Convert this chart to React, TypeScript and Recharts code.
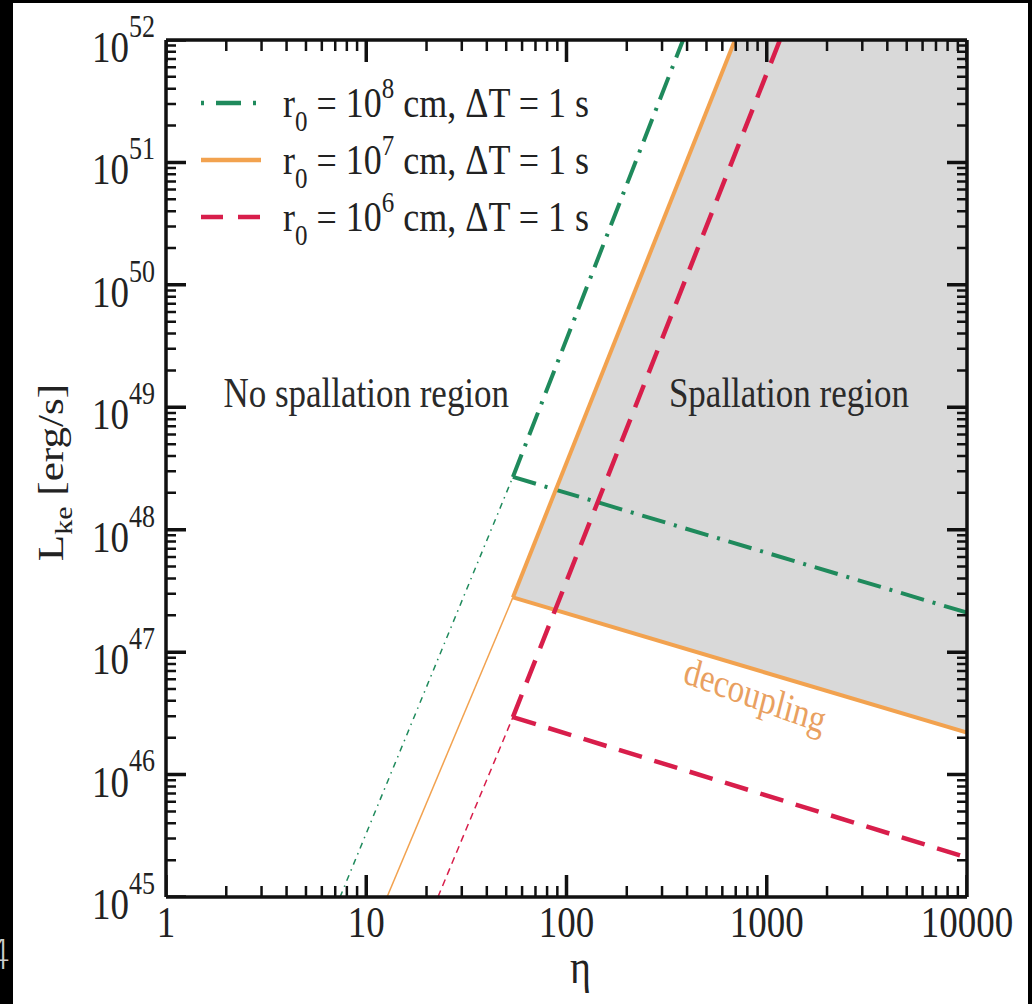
import React from "react";
import { ComposedChart, XAxis, YAxis, Line, Area, ReferenceLine, ReferenceDot, Legend, Label } from "recharts";

const SERIF = "'Liberation Serif', 'Times New Roman', serif";
const STRETCH = 1.2; // the figure is stretched vertically
const PLOT_W = 801;
const PLOT_H = 857;

// axes
const X_DECADES = [1, 10, 100, 1000, 10000];
const X_LABELS = ["1", "10", "100", "1000", "10000"];
const Y_EXPONENTS = [45, 46, 47, 48, 49, 50, 51, 52];
const MINOR_STEPS = [2, 3, 4, 5, 6, 7, 8, 9];

// rising branch: bottom edge, kink, top edge
const KINK_ETA = 54;
const RISE_ETA_R8 = [7.4, KINK_ETA, 382];
const RISE_L_R8 = [1e45, 2.7e48, 1e52];
const RISE_ETA_R7 = [12.7, KINK_ETA, 694];
const RISE_L_R7 = [1e45, 2.8e47, 1e52];
const RISE_ETA_R6 = [22.8, KINK_ETA, 1164];
const RISE_L_R6 = [1e45, 2.95e46, 1e52];

// decoupling branch
const DEC_ETA = [KINK_ETA, 10000];
const DEC_L_R8 = [2.7e48, 2.1e47];
const DEC_L_R7 = [2.8e47, 2.2e46];
const DEC_L_R6 = [2.95e46, 2.1e45];

const LEGEND_EXP = ["8", "7", "6"];
const GREEN = "#1f8a5c";
const ORANGE = "#f2a24f";
const RED = "#d81e4b";
const COLORS = [GREEN, ORANGE, RED];
const LEGEND_DASH = ["3 12 25 12", undefined, "22 15"];

const pts = (etas: number[], ls: number[]) => etas.map((eta, i) => ({ eta, L: ls[i] }));

// log-log straight line through the decoupling branch of r0 = 1e7
const decR7At = (eta: number) => {
  const t = Math.log10(eta / DEC_ETA[0]) / Math.log10(DEC_ETA[1] / DEC_ETA[0]);
  return 10 ** (Math.log10(DEC_L_R7[0]) + t * Math.log10(DEC_L_R7[1] / DEC_L_R7[0]));
};

const X_MIN = X_DECADES[0];
const X_MAX = X_DECADES[X_DECADES.length - 1];
const Y_MIN = 10 ** Y_EXPONENTS[0];
const TOP_L = 10 ** Y_EXPONENTS[Y_EXPONENTS.length - 1];
const shade = [
  { eta: KINK_ETA, band: [RISE_L_R7[1], RISE_L_R7[1]] },
  { eta: RISE_ETA_R7[2], band: [decR7At(RISE_ETA_R7[2]), TOP_L] },
  { eta: DEC_ETA[1], band: [DEC_L_R7[1], TOP_L] },
];

const xMajor = X_DECADES;
const xMinor = X_DECADES.slice(0, -1).flatMap((d) => MINOR_STEPS.map((s) => d * s));
const yMajor = Y_EXPONENTS.map((e) => 10 ** e);
const yMinor = Y_EXPONENTS.slice(0, -1).flatMap((e) => MINOR_STEPS.map((s) => s * 10 ** e));

// inward frame ticks, as short broken polylines through the chart's own log scales
const upBy = (px: number) => 10 ** ((px / PLOT_H) * Math.log10(TOP_L / Y_MIN));
const rightBy = (px: number) => 10 ** ((px / PLOT_W) * Math.log10(X_MAX / X_MIN));
const xTickMarks = (vals: number[], len: number) =>
  vals.flatMap((v) => [
    { eta: v, L: Y_MIN },
    { eta: v, L: Y_MIN * upBy(len) },
    { eta: v, L: null },
    { eta: v, L: TOP_L },
    { eta: v, L: TOP_L / upBy(len) },
    { eta: v, L: null },
  ]);
const yTickMarks = (vals: number[], len: number) =>
  vals.flatMap((v) => [
    { eta: X_MIN, L: v },
    { eta: X_MIN * rightBy(len), L: v },
    { eta: X_MIN * rightBy(len), L: null },
    { eta: X_MAX, L: v },
    { eta: X_MAX / rightBy(len), L: v },
    { eta: X_MAX / rightBy(len), L: null },
  ]);

function XTick(props: any) {
  const x = Number(props.x);
  const y = Number(props.y);
  const idx = X_DECADES.findIndex((d) => Math.abs(d - props.payload.value) < 1e-6 * d);
  return (
    <g transform={`translate(${x},${y + 40}) scale(1,${STRETCH})`}>
      <text textAnchor="middle" fontFamily={SERIF} fontSize={37} fill="#222">
        {X_LABELS[idx]}
      </text>
    </g>
  );
}

function YTick(props: any) {
  const x = Number(props.x);
  const y = Number(props.y);
  const exp = Math.round(Math.log10(props.payload.value));
  return (
    <g transform={`translate(${x - 11},${y + 22}) scale(1,${STRETCH})`}>
      <text textAnchor="end" fontFamily={SERIF} fontSize={37} fill="#222">
        10<tspan fontSize={26} dy={-21}>{exp}</tspan>
      </text>
    </g>
  );
}

function LegendBox() {
  return (
    <svg width={1015} height={260} style={{ overflow: "visible", display: "block" }}>
      {LEGEND_EXP.map((e, i) => {
        const y = 100 + i * 57;
        return (
          <g key={e}>
            <line x1={188} x2={248} y1={y} y2={y} stroke={COLORS[i]} strokeWidth={4.5} strokeDasharray={LEGEND_DASH[i]} />
            <g transform={`translate(270,${y + 14}) scale(1,${STRETCH})`}>
              <text fontFamily={SERIF} fontSize={36} fill="#222">
                r<tspan fontSize={25} dy={12}>0</tspan>
                <tspan dy={-12}> = 10</tspan>
                <tspan fontSize={25} dy={-16}>{e}</tspan>
                <tspan dy={16}> cm, ΔT = 1 s</tspan>
              </text>
            </g>
          </g>
        );
      })}
    </svg>
  );
}

const stretchText = (text: string, size: number, fill: string, rotate = 0) => (p: any) => (
  <g transform={`translate(${p.cx},${p.cy}) scale(1,${STRETCH}) rotate(${rotate})`}>
    <text textAnchor="middle" fontFamily={SERIF} fontSize={size} fill={fill}>
      {text}
    </text>
  </g>
);

function XLabel(props: any) {
  const vb = props.viewBox;
  return (
    <g transform={`translate(${vb.x + vb.width / 2 + 14},${vb.y + 86}) scale(1,${STRETCH})`}>
      <text textAnchor="middle" fontFamily={SERIF} fontSize={40} fill="#222">
        η
      </text>
    </g>
  );
}

function YLabel(props: any) {
  const vb = props.viewBox;
  return (
    <g transform={`translate(50,${vb.y + vb.height / 2 + 4}) scale(1,${STRETCH}) rotate(-90)`}>
      <text textAnchor="middle" fontFamily={SERIF} fontSize={36} fill="#222">
        L<tspan fontSize={25} dy={9}>ke</tspan>
        <tspan dy={-9}> [erg/s]</tspan>
      </text>
    </g>
  );
}

const tickLine = (data: any[], w: number) => (
  <Line data={data} dataKey="L" stroke="#111" strokeWidth={w} dot={false} legendType="none" isAnimationActive={false} />
);

export default function App() {
  return (
    <div style={{ position: "relative", width: 1032, height: 1004, background: "#000", overflow: "hidden" }}>
      <style>{"body{margin:0}"}</style>
      <span style={{ position: "absolute", left: -14, top: 932, color: "#ccc", font: "300 40px 'DejaVu Sans'" }}>4</span>
      <div style={{ position: "absolute", left: 13, top: 3, width: 1015, height: 1001, background: "#fff" }}>
        <ComposedChart width={1015} height={1001} margin={{ top: 37, right: 61, bottom: 0, left: 0 }}>
          <Area
            data={shade}
            dataKey="band"
            type="linear"
            fill="#d9d9d9"
            fillOpacity={1}
            stroke="none"
            isAnimationActive={false}
          />
          <Line data={pts(RISE_ETA_R8.slice(0, 2), RISE_L_R8.slice(0, 2))} dataKey="L" stroke={GREEN} strokeWidth={1.5} strokeDasharray="6 5 1.5 5" dot={false} isAnimationActive={false} />
          <Line data={pts(RISE_ETA_R8.slice(1), RISE_L_R8.slice(1))} dataKey="L" stroke={GREEN} strokeWidth={4} strokeDasharray="24 9 3 9" dot={false} isAnimationActive={false} />
          <Line data={pts(DEC_ETA, DEC_L_R8)} dataKey="L" stroke={GREEN} strokeWidth={4} strokeDasharray="24 9 3 9" dot={false} isAnimationActive={false} />

          <Line data={pts(RISE_ETA_R7.slice(0, 2), RISE_L_R7.slice(0, 2))} dataKey="L" stroke={ORANGE} strokeWidth={1.5} dot={false} isAnimationActive={false} />
          <Line data={pts(RISE_ETA_R7.slice(1), RISE_L_R7.slice(1))} dataKey="L" stroke={ORANGE} strokeWidth={4} dot={false} isAnimationActive={false} />
          <Line data={pts(DEC_ETA, DEC_L_R7)} dataKey="L" stroke={ORANGE} strokeWidth={4} dot={false} isAnimationActive={false} />

          <Line data={pts(RISE_ETA_R6.slice(0, 2), RISE_L_R6.slice(0, 2))} dataKey="L" stroke={RED} strokeWidth={1.5} strokeDasharray="7 5" dot={false} isAnimationActive={false} />
          <Line data={pts(RISE_ETA_R6.slice(1), RISE_L_R6.slice(1))} dataKey="L" stroke={RED} strokeWidth={4.5} strokeDasharray="24 13" dot={false} isAnimationActive={false} />
          <Line data={pts(DEC_ETA, DEC_L_R6)} dataKey="L" stroke={RED} strokeWidth={4.5} strokeDasharray="24 13" dot={false} isAnimationActive={false} />

          {tickLine(xTickMarks(xMajor, 22), 3.5)}
          {tickLine(xTickMarks(xMinor, 11), 2.5)}
          {tickLine(yTickMarks(yMajor, 20), 3.5)}
          {tickLine(yTickMarks(yMinor, 10), 2.5)}

          <ReferenceDot x={10} y={1e49} r={0} ifOverflow="visible" shape={stretchText("No spallation region", 35, "#2a2a2a")} />
          <ReferenceDot x={1290} y={1e49} r={0} ifOverflow="visible" shape={stretchText("Spallation region", 35, "#2a2a2a")} />
          <ReferenceDot x={844} y={3.5e46} r={0} ifOverflow="visible" shape={stretchText("decoupling", 33, "#e9a060", 17)} />

          <ReferenceLine y={TOP_L} stroke="#111" strokeWidth={3.5} ifOverflow="visible" />
          <ReferenceLine x={X_MAX} stroke="#111" strokeWidth={3.5} ifOverflow="visible" />

          <XAxis
            dataKey="eta"
            type="number"
            scale="log"
            domain={[X_MIN, X_MAX]}
            allowDataOverflow
            ticks={xMajor}
            interval={0}
            tick={XTick}
            tickLine={false}
            tickSize={0}
            tickMargin={0}
            axisLine={{ stroke: "#111", strokeWidth: 3.5 }}
            height={107}
          >
            <Label content={XLabel} />
          </XAxis>
          <YAxis
            dataKey="L"
            type="number"
            scale="log"
            domain={[Y_MIN, TOP_L]}
            allowDataOverflow
            ticks={yMajor}
            interval={0}
            tick={YTick}
            tickLine={false}
            tickSize={0}
            tickMargin={0}
            axisLine={{ stroke: "#111", strokeWidth: 3.5 }}
            width={153}
          >
            <Label content={YLabel} />
          </YAxis>
          <Legend
            content={LegendBox}
            layout="horizontal"
            verticalAlign="middle"
            align="center"
            wrapperStyle={{ left: 0, top: 0, width: 1015, height: 260 }}
          />
        </ComposedChart>
      </div>
    </div>
  );
}
